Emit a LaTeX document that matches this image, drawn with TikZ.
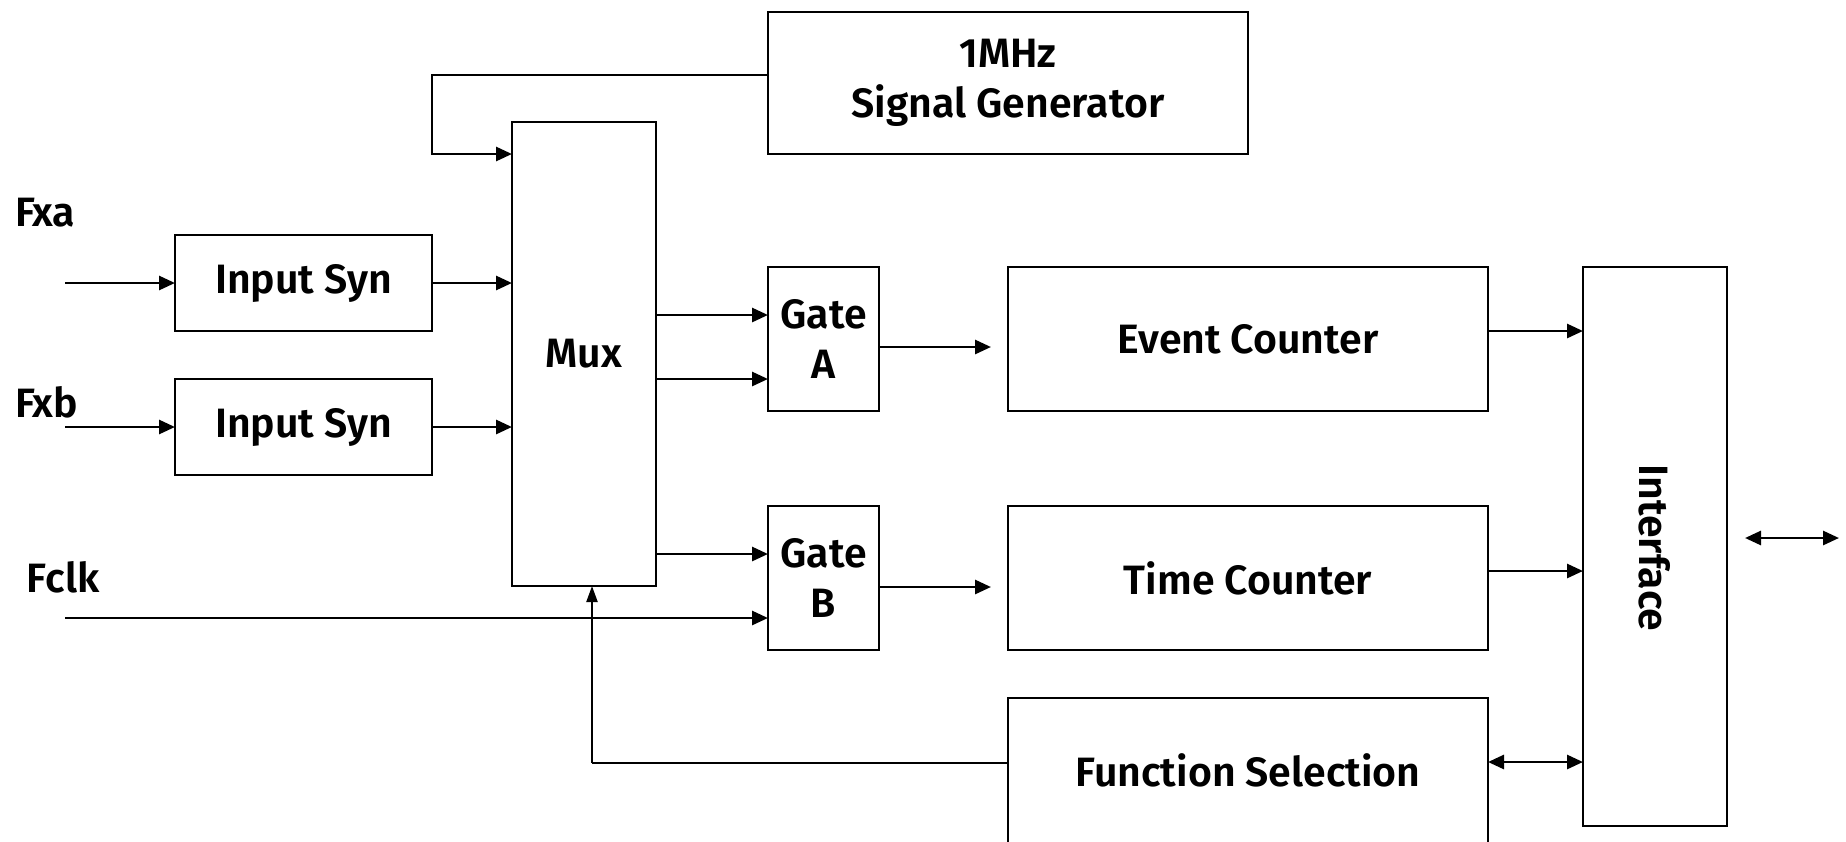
\documentclass[tikz,border=0pt]{standalone}
\usepackage{fontspec}
\setmainfont{Fira Sans}[UprightFont=* SemiBold]
\usetikzlibrary{arrows.meta,calc}
\begin{document}
\begin{tikzpicture}[x=1pt,y=-1pt,
  every node/.style={font=\fontsize{41}{50}\selectfont, inner sep=0pt, outer sep=0pt},
  blockbox/.style={draw, line width=2.8pt, align=center},
  wire/.style={line width=2.8pt},
  sig/.style={wire, -{Triangle[length=16pt,width=14pt]}},
  bisig/.style={wire, {Triangle[length=16pt,width=14pt]}-{Triangle[length=16pt,width=14pt]}},
  thinsig/.style={line width=2.2pt, -{Triangle[length=16pt,width=11pt]}}]
\useasboundingbox (0,0) rectangle (1846,841);

% blocks
\node[blockbox, minimum width=480, minimum height=142] (gen) at (1008,83) {1MHz\\Signal Generator};
\node[blockbox, minimum width=144, minimum height=464] (mux) at (584,354) {Mux};
\node[blockbox, minimum width=257, minimum height=96] (synA) at (303.5,283) {Input Syn};
\node[blockbox, minimum width=257, minimum height=96] (synB) at (303.5,427) {Input Syn};
\node[blockbox, minimum width=111, minimum height=144] (gateA) at (823.5,339) {Gate\\A};
\node[blockbox, minimum width=111, minimum height=144] (gateB) at (823.5,578) {Gate\\B};
\node[blockbox, minimum width=480, minimum height=144] (event) at (1248,339) {Event Counter};
\node[blockbox, minimum width=480, minimum height=144] (time) at (1248,578) {Time Counter};
\node[blockbox, minimum width=480, minimum height=150] (func) at (1248,773) {};
\node at (1248,770) {Function Selection};
\node[blockbox, minimum width=144, minimum height=559] (iface) at (1655,546.5) {};
\node[rotate=-90] at (1655,548) {Interface};

% input labels
\node[anchor=base west] (lxa) at (15,226) {Fxa};
\node[anchor=base west] (lxb) at (15,417) {Fxb};
\node[anchor=base west] (lclk) at (27,592) {Fclk};

% free ends
\coordinate (inA) at (65,283);
\coordinate (inB) at (65,427);
\coordinate (inClk) at (65,618);
\coordinate (genOut) at ($(gen.west)+(0,-8)$);
\coordinate (genBend) at (432,154);
\coordinate (outA) at (991,347);
\coordinate (outB) at (991,587);
\coordinate (selBend) at (592,763);
\coordinate (busL) at (1745,538);
\coordinate (busR) at (1839,538);

% connectors
\draw[sig] (inA) -- (synA.west);
\draw[sig] (inB) -- (synB.west);
\draw[sig] (synA.east) -- (synA.east -| mux.west);
\draw[sig] (synB.east) -- (synB.east -| mux.west);
\draw[sig] (inClk) -- (inClk -| gateB.west);
\draw[sig] (genOut) -| (genBend) -- (genBend -| mux.west);
\draw[sig] (mux.east |- 0,315) -- (gateA.west |- 0,315);
\draw[sig] (mux.east |- 0,379) -- (gateA.west |- 0,379);
\draw[sig] (mux.east |- 0,554) -- (gateB.west |- 0,554);
\draw[sig] (gateA.east |- outA) -- (outA);
\draw[sig] (gateB.east |- outB) -- (outB);
\draw[sig] (event.east |- 0,331) -- (iface.west |- 0,331);
\draw[sig] (time.east |- 0,571) -- (iface.west |- 0,571);
\draw[bisig] (func.east |- 0,762) -- (iface.west |- 0,762);
\draw[wire] (func.west |- selBend) -- (selBend);
\draw[thinsig] (selBend) -- (selBend |- mux.south);
\draw[bisig] (busL) -- (busR);
\end{tikzpicture}
\end{document}
